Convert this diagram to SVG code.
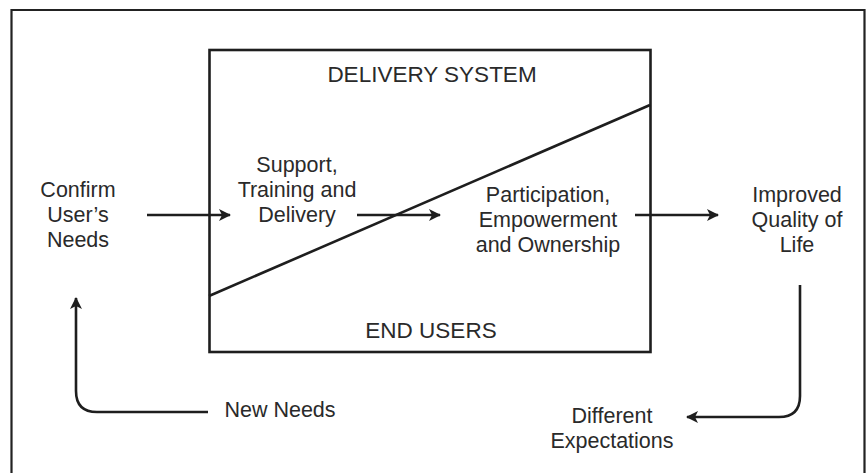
<svg xmlns="http://www.w3.org/2000/svg" width="866" height="473" viewBox="0 0 866 473">
<defs>
<style>
text{font-family:"Liberation Sans","Arial",sans-serif;fill:#2a2a2a;font-size:21.5px;text-anchor:middle}
.h{font-size:22.5px}
.ln{fill:none;stroke:#1e1e1e;stroke-width:2.6}
.frame{fill:none;stroke:#222;stroke-width:2.2}
</style>
<marker id="ah" viewBox="0 0 12 12" refX="11" refY="6" markerWidth="12" markerHeight="12" markerUnits="userSpaceOnUse" orient="auto">
<path d="M0,0 L12,6 L0,12 L3,6 Z" fill="#1e1e1e"/>
</marker>
</defs>
<rect x="0" y="0" width="866" height="473" fill="#fff"/>
<path class="frame" d="M11.5,480 V10 H864.5 V480"/>
<g id="system">
<rect class="ln" x="209.5" y="50" width="441" height="302"/>
<line class="ln" x1="209" y1="296" x2="650" y2="105"/>
<text class="h" x="432" y="82">DELIVERY SYSTEM</text>
<text class="h" x="431" y="338">END USERS</text>
</g>
<g id="confirm">
<text x="78" y="197">Confirm</text>
<text x="78" y="222">User’s</text>
<text x="78" y="247">Needs</text>
</g>
<g id="support">
<text x="297" y="172">Support,</text>
<text x="297" y="197">Training and</text>
<text x="297" y="222">Delivery</text>
</g>
<g id="participation">
<text x="548" y="202">Participation,</text>
<text x="548" y="227">Empowerment</text>
<text x="548" y="252">and Ownership</text>
</g>
<g id="improved">
<text x="797" y="202">Improved</text>
<text x="797" y="227">Quality of</text>
<text x="797" y="252">Life</text>
</g>
<g id="newneeds">
<text x="280" y="417">New Needs</text>
</g>
<g id="different">
<text x="612" y="423">Different</text>
<text x="612" y="448">Expectations</text>
</g>
<g id="connectors">
<path class="ln" d="M147,215 H230" marker-end="url(#ah)"/>
<path class="ln" d="M357,215 H440" marker-end="url(#ah)"/>
<path class="ln" d="M635,215 H718" marker-end="url(#ah)"/>
<path class="ln" d="M208,412 H97 Q76,412 76,391 V298" marker-end="url(#ah)"/>
<path class="ln" d="M800,285 V396 Q800,417 779,417 H687" marker-end="url(#ah)"/>
</g>
</svg>
